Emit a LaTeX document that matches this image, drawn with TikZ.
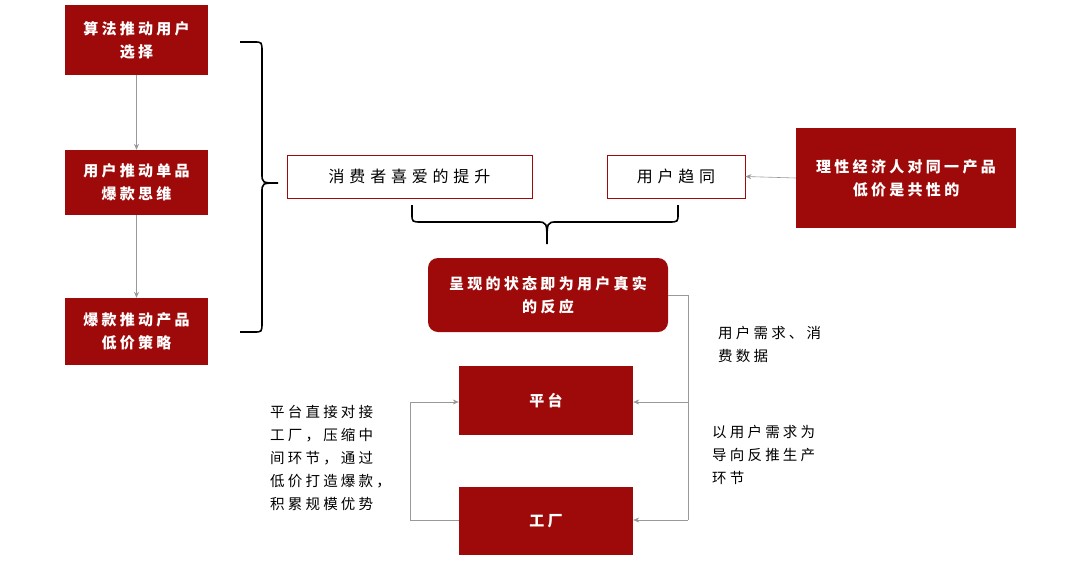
\documentclass[tikz,border=0pt]{standalone}
\usepackage{fontspec}
\setmainfont{Noto Sans CJK SC}
\newfontfamily\myspa[LetterSpace=22]{Noto Sans CJK SC}
\newfontfamily\myspb[LetterSpace=30]{Noto Sans CJK SC}
\usetikzlibrary{arrows.meta}
\definecolor{dred}{HTML}{9E0A0A}
\begin{document}
\begin{tikzpicture}[x=1pt,y=-1pt,
 red/.style={fill=dred,draw=none,text=white,font=\myspa\fontsize{15}{23}\selectfont\bfseries,align=center,inner sep=0},
 wbox/.style={draw=dred,line width=0.8pt,fill=white,font=\myspb\fontsize{16}{19}\selectfont,inner sep=0},
 conn/.style={draw=gray!80,line width=0.6pt,-{Stealth[length=6pt,width=5pt]}},
 lbl/.style={font=\myspa\fontsize{14.5}{23}\selectfont,align=left,anchor=north west,inner sep=0}]
\useasboundingbox (0,0) rectangle (1080,566);
\node[red,minimum width=143,minimum height=70] (a) at (136.5,40) {算法推动用户\\选择};
\node[red,minimum width=143,minimum height=65] (b) at (136.5,182.5) {用户推动单品\\爆款思维};
\node[red,minimum width=143,minimum height=67] (c) at (136.5,331.5) {爆款推动产品\\低价策略};
\draw[conn] (a) -- (b);
\draw[conn] (b) -- (c);
\coordinate (bt) at (240,42); \coordinate (bb) at (240,332);
\draw[line width=1.6pt] (bt) -- (254,42) .. controls (262,42) .. (262,52) -- (262,173) .. controls (262,183) .. (278,183) .. controls (262,183) .. (262,193) -- (262,322) .. controls (262,332) .. (254,332) -- (bb);
\node[wbox,minimum width=245,minimum height=43] (d) at (409.5,176.5) {消费者喜爱的提升};
\node[wbox,minimum width=138,minimum height=43] (e) at (676,176.5) {用户趋同};
\node[red,minimum width=220,minimum height=100] (f) at (906,178) {理性经济人对同一产品\\低价是共性的};
\draw[conn] (f.west) -- (e.east);
\draw[line width=1.6pt] (412,205) -- (412,214) .. controls (412,222) .. (422,222) -- (537,222) .. controls (547,222) .. (547,244) .. controls (547,222) .. (557,222) -- (668,222) .. controls (678,222) .. (678,214) -- (678,205);
\node[red,rounded corners=10pt,minimum width=240,minimum height=74] (g) at (548,295) {呈现的状态即为用户真实\\的反应};
\node[red,minimum width=174,minimum height=69] (h) at (546,400.5) {平台};
\node[red,minimum width=174,minimum height=68] (i) at (546,521) {工厂};
\coordinate (r1) at (688,295); \coordinate (r2) at (688,520); \coordinate (r3) at (688,402);
\draw[draw=gray!80,line width=0.6pt] (g.east|-r1) -- (r1) -- (r2);
\draw[conn] (r2) -- (i.east|-r2);
\draw[conn] (r3) -- (h.east|-r3);
\coordinate (l1) at (410,520); \coordinate (l2) at (410,402);
\draw[conn] (i.west|-l1) -- (l1) -- (l2) -- (h.west|-l2);
\node[lbl] (t1) at (718,326) {用户需求、消\\费数据};
\node[lbl] (t2) at (712,425) {以用户需求为\\导向反推生产\\环节};
\node[lbl] (t3) at (270,405) {平台直接对接\\工厂，压缩中\\间环节，通过\\低价打造爆款，\\积累规模优势};
\end{tikzpicture}
\end{document}
